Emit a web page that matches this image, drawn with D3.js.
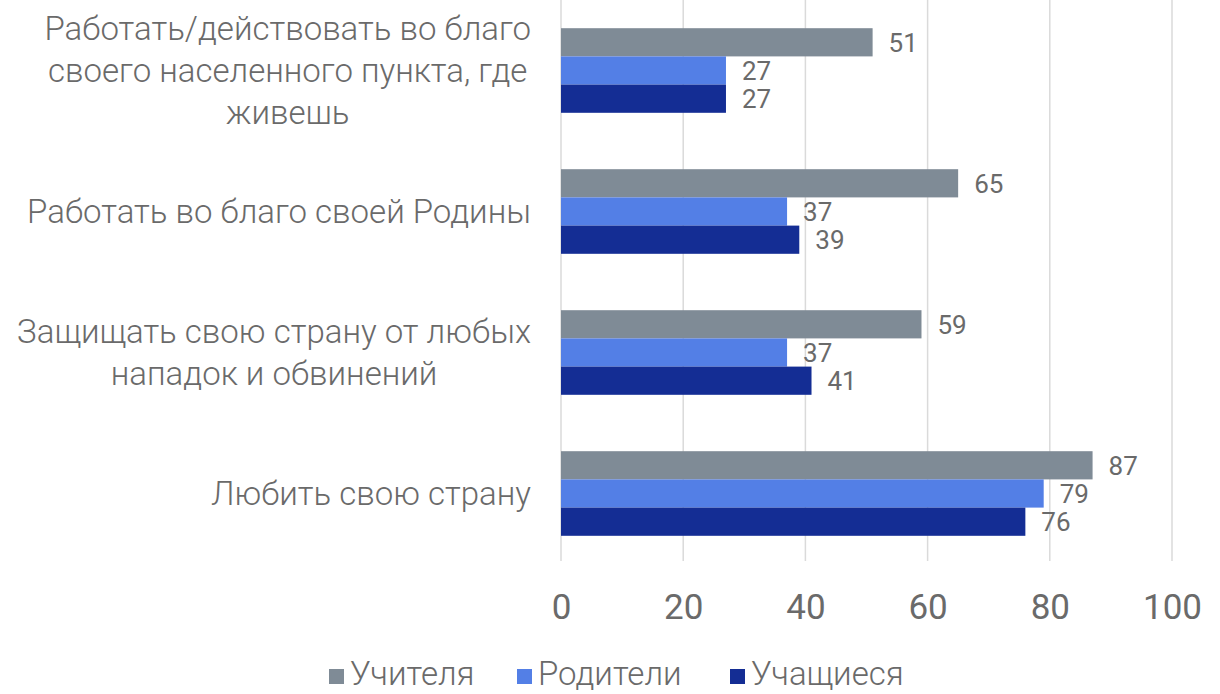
<!DOCTYPE html>
<html><head><meta charset="utf-8">
<script src="https://cdn.jsdelivr.net/npm/d3@7"></script>
<style>body{margin:0;background:#fff;}svg{display:block;}</style>
</head><body>
<svg id="c" width="1220" height="694"></svg>
<script>
const categories = [
  ["Работать/действовать во благо", "своего населенного пункта, где", "живешь"],
  ["Работать во благо своей Родины"],
  ["Защищать свою страну от любых", "нападок и обвинений"],
  ["Любить свою страну"]
];
const seriesNames = ["Учителя", "Родители", "Учащиеся"];
const teachers = [51, 65, 59, 87];
const parents = [27, 37, 37, 79];
const students = [27, 39, 41, 76];
const colors = ["#7f8b96", "#537fe6", "#142d94"];
const xTicks = [0, 20, 40, 60, 80, 100];

const svg = d3.select("#c");
const FONT = "Roboto, 'Liberation Sans', sans-serif";
const x = d3.scaleLinear().domain([0, 100]).range([561, 1172]);
const catIdx = categories.map((d, i) => i);
const y = d3.scaleBand().domain(catIdx).range([0, 564]).paddingInner(0.4).paddingOuter(0.2);
const yIn = d3.scaleBand().domain([0, 1, 2]).range([0, y.bandwidth()]);
const series = [teachers, parents, students];

// gridlines
svg.append("g").selectAll("line").data(xTicks).join("line")
  .attr("x1", d => x(d)).attr("x2", d => x(d))
  .attr("y1", 0).attr("y2", 561)
  .attr("stroke", "#dadada").attr("stroke-width", 1.5);

// x axis
const xAxis = d3.axisBottom(x).tickValues(xTicks).tickSize(0).tickPadding(0);
const gx = svg.append("g").attr("transform", "translate(0,607)").call(xAxis);
gx.select(".domain").remove();
gx.selectAll("text").attr("font-family", FONT).attr("font-size", 35).attr("fill", "#6a6a6a")
  .attr("dy", "0.35em").attr("y", 0);

// bars
const groups = svg.append("g").selectAll("g").data(catIdx).join("g")
  .attr("transform", i => `translate(0,${y(i)})`);
groups.each(function(i) {
  const g = d3.select(this);
  series.forEach((s, k) => {
    g.append("rect")
      .attr("x", x(0)).attr("y", yIn(k))
      .attr("width", x(s[i]) - x(0)).attr("height", yIn.bandwidth())
      .attr("fill", colors[k]);
    g.append("text")
      .attr("x", x(s[i]) + 16).attr("y", yIn(k) + yIn.bandwidth() / 2)
      .attr("dy", "0.36em")
      .attr("font-family", FONT).attr("font-size", 26).attr("fill", "#6a6a6a")
      .text(s[i]);
  });
});

// category labels
const lineH = 42;
catIdx.forEach(i => {
  const lines = categories[i];
  const cy = y(i) + y.bandwidth() / 2;
  const g = svg.append("g");
  const texts = lines.map((t, j) => g.append("text")
    .attr("y", cy + (j - (lines.length - 1) / 2) * lineH)
    .attr("dy", "0.35em")
    .attr("font-family", FONT).attr("font-weight", 300).attr("font-size", 33).attr("fill", "#6a6a6a")
    .attr("text-anchor", "middle").text(t));
  const maxW = d3.max(texts, t => t.node().getComputedTextLength());
  texts.forEach(t => t.attr("x", 531 - maxW / 2));
});

// legend
const leg = svg.append("g");
const legX = [329, 517, 730];
seriesNames.forEach((n, k) => {
  leg.append("rect").attr("x", legX[k]).attr("y", 669).attr("width", 15).attr("height", 15).attr("fill", colors[k]);
  leg.append("text").attr("x", legX[k] + 21).attr("y", 685)
    .attr("font-family", FONT).attr("font-weight", 300).attr("font-size", 33).attr("fill", "#6a6a6a").text(n);
});
</script>
</body></html>
